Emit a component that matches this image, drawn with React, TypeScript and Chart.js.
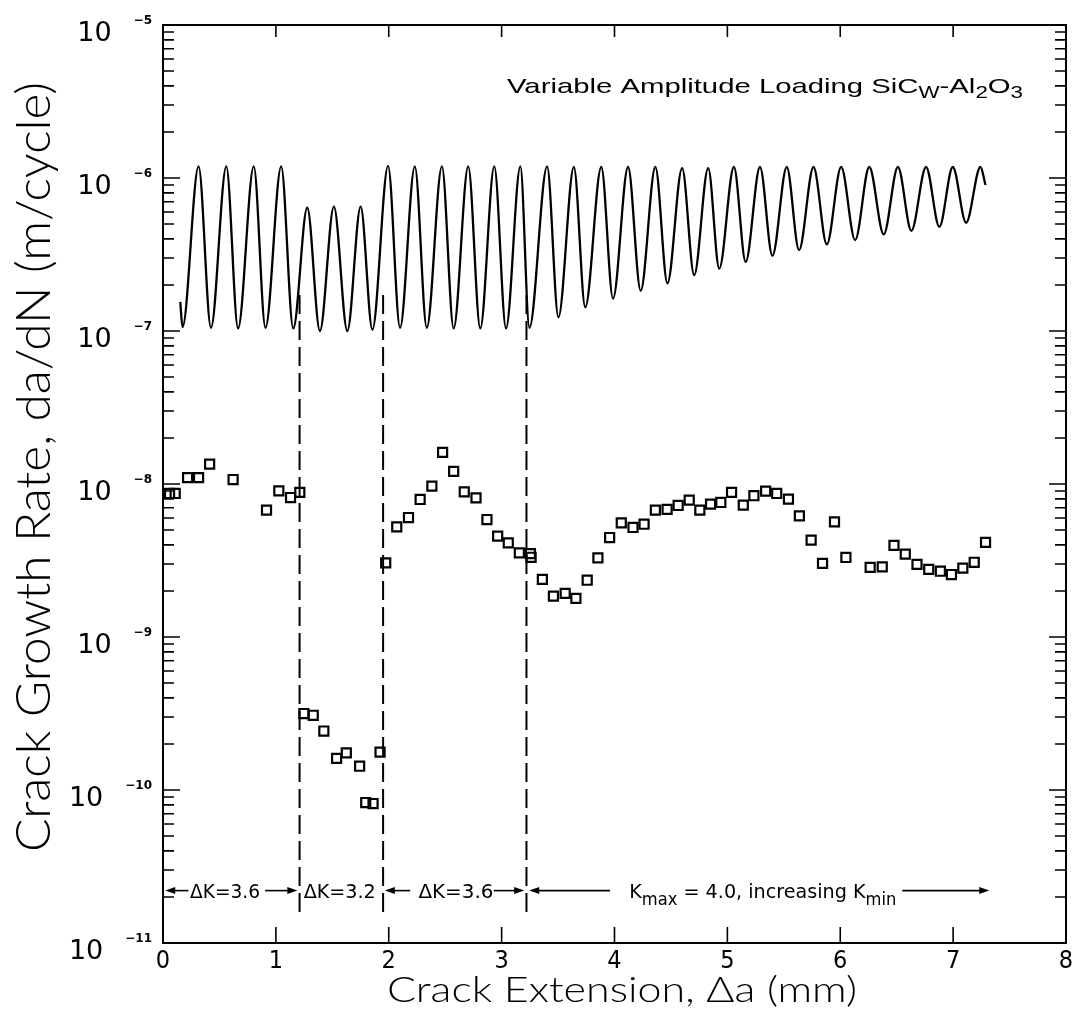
import React, { useEffect, useRef } from 'react';
import { Chart, registerables } from 'chart.js';

Chart.register(...registerables);

// ---------------- data ----------------
const X_MIN = 0;
const X_MAX = 8;
const Y_MIN = 1e-11;
const Y_MAX = 1e-5;
const X_TICKS = [1, 2, 3, 4, 5, 6, 7];
const Y_DECADES = [-11, -10, -9, -8, -7, -6, -5];

// oscillating loading curve: successive extremes (peaks / troughs)
const WAVE_X = [
  0.153, 0.173, 0.315, 0.425, 0.561, 0.665, 0.804, 0.908, 1.047, 1.154,
  1.278, 1.39, 1.514, 1.633, 1.751, 1.855, 1.994, 2.1, 2.231, 2.337,
  2.471, 2.575, 2.704, 2.811, 2.935, 3.039, 3.166, 3.246, 3.403, 3.503,
  3.64, 3.741, 3.883, 3.987, 4.12, 4.232, 4.362, 4.469, 4.599, 4.706,
  4.83, 4.928, 5.058, 5.162, 5.289, 5.399, 5.526, 5.635, 5.763, 5.881,
  6.008, 6.132, 6.257, 6.385, 6.511, 6.63, 6.76, 6.878, 6.997, 7.115,
  7.242, 7.287,
];
const WAVE_Y = [
  1.55e-7, 1.06e-7, 1.19e-6, 1.05e-7, 1.19e-6, 1.04e-7, 1.19e-6, 1.05e-7, 1.19e-6, 1.04e-7,
  6.4e-7, 1.0e-7, 6.5e-7, 1.0e-7, 6.5e-7, 1.02e-7, 1.2e-6, 1.05e-7, 1.19e-6, 1.05e-7,
  1.19e-6, 1.04e-7, 1.19e-6, 1.04e-7, 1.19e-6, 1.04e-7, 1.19e-6, 1.05e-7, 1.19e-6, 1.23e-7,
  1.18e-6, 1.43e-7, 1.18e-6, 1.63e-7, 1.18e-6, 1.83e-7, 1.18e-6, 2.05e-7, 1.16e-6, 2.32e-7,
  1.16e-6, 2.56e-7, 1.18e-6, 2.83e-7, 1.18e-6, 3.1e-7, 1.18e-6, 3.38e-7, 1.18e-6, 3.68e-7,
  1.18e-6, 3.93e-7, 1.18e-6, 4.28e-7, 1.18e-6, 4.52e-7, 1.18e-6, 4.8e-7, 1.18e-6, 5.1e-7,
  1.18e-6, 9.0e-7,
];

// measured crack growth rates (open squares)
const SQUARE_X = [
  0.058, 0.108, 0.218, 0.315, 0.413, 0.621, 0.917, 1.026, 1.13, 1.212,
  1.248, 1.331, 1.425, 1.538, 1.624, 1.742, 1.796, 1.861, 1.923,
  1.973, 2.071, 2.175, 2.278, 2.382, 2.477, 2.575, 2.669, 2.773, 2.87,
  2.965, 3.059, 3.157, 3.255, 3.261,
  3.361, 3.459, 3.563, 3.658, 3.758, 3.853, 3.957, 4.06, 4.164, 4.262,
  4.362, 4.466, 4.564, 4.662, 4.756, 4.851, 4.942, 5.037, 5.141, 5.235,
  5.339, 5.437, 5.541, 5.638, 5.742, 5.843, 5.949, 6.05, 6.265, 6.372,
  6.476, 6.576, 6.68, 6.784, 6.887, 6.985, 7.086, 7.187, 7.287,
];
const SQUARE_Y = [
  8.67e-9, 8.67e-9, 1.1e-8, 1.1e-8, 1.35e-8, 1.07e-8, 6.75e-9, 9.02e-9, 8.16e-9, 8.81e-9,
  3.16e-10, 3.08e-10, 2.43e-10, 1.61e-10, 1.75e-10, 1.43e-10, 8.28e-11, 8.16e-11, 1.77e-10,
  3.05e-9, 5.25e-9, 6.04e-9, 7.92e-9, 9.68e-9, 1.61e-8, 1.21e-8, 8.89e-9, 8.12e-9, 5.86e-9,
  4.56e-9, 4.12e-9, 3.55e-9, 3.51e-9, 3.32e-9,
  2.38e-9, 1.85e-9, 1.93e-9, 1.79e-9, 2.35e-9, 3.29e-9, 4.47e-9, 5.57e-9, 5.2e-9, 5.46e-9,
  6.75e-9, 6.82e-9, 7.24e-9, 7.84e-9, 6.75e-9, 7.38e-9, 7.57e-9, 8.81e-9, 7.27e-9, 8.38e-9,
  8.98e-9, 8.67e-9, 7.96e-9, 6.19e-9, 4.3e-9, 3.03e-9, 5.66e-9, 3.31e-9, 2.85e-9, 2.87e-9,
  3.97e-9, 3.48e-9, 2.98e-9, 2.77e-9, 2.69e-9, 2.56e-9, 2.82e-9, 3.08e-9, 4.15e-9,
];

// regime boundaries (vertical dashed lines)
const BOUNDARY_X = [1.21, 1.95, 3.22];
const BOUNDARY_Y = [1.72e-7, 1.52e-11];

// texts
const TITLE_PARTS: [string, boolean][] = [
  ['Variable Amplitude Loading SiC', false],
  ['W', true],
  ['-Al', false],
  ['2', true],
  ['O', false],
  ['3', true],
];
const X_TITLE = 'Crack Extension, \u0394a (mm)';
const Y_TITLE = 'Crack Growth Rate, da/dN (m/cycle)';
const REGIME_LABELS = ['\u0394K=3.6', '\u0394K=3.2', '\u0394K=3.6'];
const KMAX_PARTS: [string, boolean][] = [
  ['K', false],
  ['max', true],
  [' = 4.0, increasing K', false],
  ['min', true],
];

// ---------------- drawing helpers ----------------
const TITLE_FAMILY = '"Lato", "DejaVu Sans", sans-serif';
const NARROW_FAMILY = '"Liberation Sans Narrow", "DejaVu Sans Condensed", sans-serif';

function drawParts(
  ctx: CanvasRenderingContext2D,
  parts: [string, boolean][],
  x: number,
  y: number,
  targetW: number,
  align: 'left' | 'right' | 'center',
  mainFont: string,
  subFont: string,
  subDy: number,
) {
  const widths = parts.map(([t, sub]) => {
    ctx.font = sub ? subFont : mainFont;
    return ctx.measureText(t).width;
  });
  const total = widths.reduce((a, b) => a + b, 0);
  const sx = targetW > 0 ? targetW / total : 1;
  ctx.save();
  ctx.translate(x, y);
  ctx.scale(sx, 1);
  let cx = align === 'left' ? 0 : align === 'right' ? -total : -total / 2;
  ctx.textAlign = 'left';
  ctx.textBaseline = 'alphabetic';
  parts.forEach(([t, sub], i) => {
    ctx.font = sub ? subFont : mainFont;
    ctx.fillText(t, cx, sub ? subDy : 0);
    cx += widths[i];
  });
  ctx.restore();
}

function arrow(ctx: CanvasRenderingContext2D, fromX: number, toX: number, y: number) {
  const dir = toX > fromX ? 1 : -1;
  const head = 10;
  ctx.beginPath();
  ctx.moveTo(fromX, y);
  ctx.lineTo(toX - dir * head * 0.8, y);
  ctx.stroke();
  ctx.beginPath();
  ctx.moveTo(toX, y);
  ctx.lineTo(toX - dir * head, y - 3.5);
  ctx.lineTo(toX - dir * head, y + 3.5);
  ctx.closePath();
  ctx.fill();
}

const decorPlugin = {
  id: 'decor',
  afterDraw(chart: any) {
    const { ctx, chartArea: a, scales } = chart;
    const xs = scales.x;
    const ys = scales.y;
    ctx.save();
    ctx.strokeStyle = '#000';
    ctx.fillStyle = '#000';

    // frame
    ctx.lineWidth = 2;
    ctx.strokeRect(a.left, a.top, a.right - a.left, a.bottom - a.top);

    // ticks (inward)
    ctx.lineWidth = 1.6;
    ctx.beginPath();
    for (const t of X_TICKS) {
      const px = xs.getPixelForValue(t);
      ctx.moveTo(px, a.bottom);
      ctx.lineTo(px, a.bottom - 16);
      ctx.moveTo(px, a.top);
      ctx.lineTo(px, a.top + 12);
    }
    for (let d = Y_DECADES[0]; d < Y_DECADES[Y_DECADES.length - 1]; d++) {
      for (let m = 1; m <= 9; m++) {
        if (m === 1 && d === Y_DECADES[0]) continue;
        const py = ys.getPixelForValue(m * Math.pow(10, d));
        const len = m === 1 ? 17 : 11;
        ctx.moveTo(a.left, py);
        ctx.lineTo(a.left + len, py);
        ctx.moveTo(a.right, py);
        ctx.lineTo(a.right - len, py);
      }
    }
    ctx.stroke();

    // y tick labels: 10 with superscript exponent
    for (const d of Y_DECADES) {
      const py = ys.getPixelForValue(Math.pow(10, d));
      const expText = '\u2212' + String(-d);
      ctx.font = 'bold 12px "DejaVu Sans", sans-serif';
      const we = ctx.measureText(expText).width;
      const expLeft = a.left - 11 - we;
      ctx.textAlign = 'left';
      ctx.textBaseline = 'alphabetic';
      ctx.fillText(expText, expLeft, py - 1);
      ctx.font = '27px "DejaVu Sans", sans-serif';
      ctx.textAlign = 'right';
      ctx.fillText('10', expLeft - 22, py + 16);
    }

    // top-right title
    drawParts(
      ctx,
      TITLE_PARTS,
      1023,
      93,
      516,
      'right',
      '21px "Liberation Sans", Arial, sans-serif',
      '16px "Liberation Sans", Arial, sans-serif',
      5,
    );

    // axis titles
    drawParts(ctx, [[X_TITLE, false]], 387, 1002, 470, 'left', `300 35px ${TITLE_FAMILY}`, '', 0);
    ctx.save();
    ctx.translate(50, 467);
    ctx.rotate(-Math.PI / 2);
    drawParts(ctx, [[Y_TITLE, false]], 0, 0, 770, 'center', `300 48px ${TITLE_FAMILY}`, '', 0);
    ctx.restore();

    // regime annotations along the bottom
    const ay = ys.getPixelForValue(2.2e-11);
    const by = ay + 7;
    const px = (v: number) => xs.getPixelForValue(v);
    const annFont = `20px ${NARROW_FAMILY}`;
    const annSub = `17px ${NARROW_FAMILY}`;
    ctx.lineWidth = 1.6;
    arrow(ctx, px(0.225), px(0.02), ay);
    drawParts(ctx, [[REGIME_LABELS[0], false]], px(0.55), by, 70, 'center', annFont, annSub, 0);
    arrow(ctx, px(0.905), px(1.19), ay);
    drawParts(ctx, [[REGIME_LABELS[1], false]], px(1.565), by, 72, 'center', annFont, annSub, 0);
    arrow(ctx, px(2.19), px(1.965), ay);
    drawParts(ctx, [[REGIME_LABELS[2], false]], px(2.595), by, 75, 'center', annFont, annSub, 0);
    arrow(ctx, px(2.93), px(3.2), ay);
    arrow(ctx, px(3.96), px(3.245), ay);
    drawParts(ctx, KMAX_PARTS, px(4.131), by, 267, 'left', annFont, annSub, 7);
    arrow(ctx, px(6.55), px(7.32), ay);

    ctx.restore();
  },
};

export default function App() {
  const canvasRef = useRef<HTMLCanvasElement | null>(null);

  useEffect(() => {
    const canvas = canvasRef.current;
    if (!canvas) return;
    const chart = new Chart(canvas, {
      type: 'scatter',
      data: {
        datasets: [
          {
            type: 'line',
            label: 'loading',
            data: WAVE_X.map((x, i) => ({ x, y: WAVE_Y[i] })),
            borderColor: '#000',
            borderWidth: 2.3,
            pointRadius: 0,
            fill: false,
            cubicInterpolationMode: 'monotone',
          },
          {
            type: 'scatter',
            label: 'da/dN',
            data: SQUARE_X.map((x, i) => ({ x, y: SQUARE_Y[i] })),
            pointStyle: 'rect',
            pointRadius: 6.4,
            borderColor: '#000',
            borderWidth: 2.2,
            backgroundColor: 'rgba(0,0,0,0)',
          },
          ...BOUNDARY_X.map((bx) => ({
            type: 'line' as const,
            label: 'boundary',
            data: BOUNDARY_Y.map((y) => ({ x: bx, y })),
            borderColor: '#000',
            borderWidth: 2,
            borderDash: [19, 7],
            pointRadius: 0,
            fill: false,
          })),
        ],
      } as any,
      options: {
        animation: false,
        responsive: false,
        devicePixelRatio: 1,
        layout: { padding: { top: 25, right: 11, left: 0, bottom: 0 } },
        plugins: {
          legend: { display: false },
          tooltip: { enabled: false },
        },
        scales: {
          x: {
            type: 'linear',
            min: X_MIN,
            max: X_MAX,
            position: 'bottom',
            grid: { display: false, drawTicks: false },
            border: { display: false },
            ticks: {
              stepSize: 1,
              maxRotation: 0,
              autoSkip: false,
              padding: 3,
              color: '#000',
              font: { family: NARROW_FAMILY, size: 25 },
            },
            afterFit: (s: any) => {
              s.height = 75;
            },
          },
          y: {
            type: 'logarithmic',
            min: Y_MIN,
            max: Y_MAX,
            position: 'left',
            grid: { display: false, drawTicks: false },
            border: { display: false },
            ticks: { display: false },
            afterFit: (s: any) => {
              s.width = 163;
            },
          },
        },
      } as any,
      plugins: [decorPlugin],
    });
    return () => chart.destroy();
  }, []);

  return (
    <canvas
      ref={canvasRef}
      width={1077}
      height={1018}
      style={{ position: 'absolute', left: 0, top: 0, width: 1077, height: 1018, background: '#fff' }}
    />
  );
}
